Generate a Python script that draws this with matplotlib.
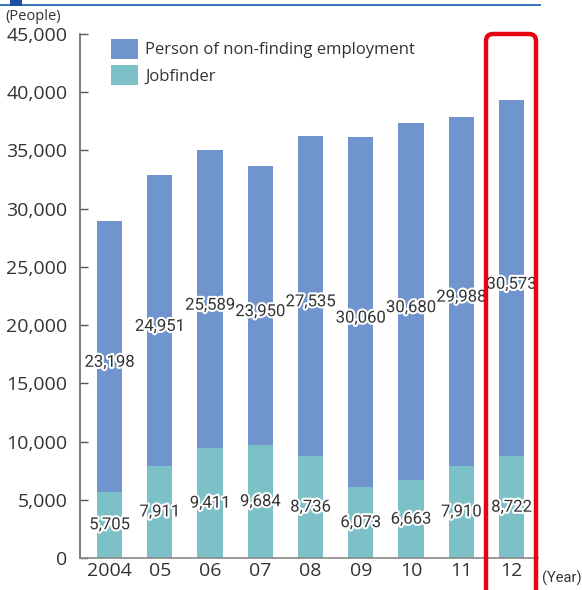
import matplotlib
matplotlib.use("Agg")
import matplotlib.pyplot as plt
import matplotlib.patheffects as pe
from matplotlib.patches import FancyBboxPatch, Rectangle
import numpy as np

years = ["2004", "05", "06", "07", "08", "09", "10", "11", "12"]
non_finding = [23198, 24951, 25589, 23950, 27535, 30060, 30680, 29988, 30573]
jobfinder = [5705, 7911, 9411, 9684, 8736, 6073, 6663, 7910, 8722]
yticks = [0, 5000, 10000, 15000, 20000, 25000, 30000, 35000, 40000, 45000]

plt.rcParams['font.family'] = ['Open Sans', 'DejaVu Sans']

W, H = 582, 590
fig = plt.figure(figsize=(W / 100, H / 100), dpi=100)
ax = fig.add_axes([80 / W, (H - 558) / H, 458 / W, 524 / H])

c_blue = "#7094cd"
c_teal = "#7dc1c8"
x = np.arange(len(years))
ax.bar(x, jobfinder, width=0.5, color=c_teal, label="Jobfinder", zorder=2)
ax.bar(x, non_finding, width=0.5, bottom=jobfinder, color=c_blue,
       label="Person of non-finding employment", zorder=2)

stroke = [pe.withStroke(linewidth=3, foreground="white")]
lab_font = ['Roboto', 'DejaVu Sans']
for i in range(len(years)):
    ax.text(x[i], jobfinder[i] / 2, f"{jobfinder[i]:,}", ha="center", va="center",
            fontsize=12, color="#333333", family=lab_font, path_effects=stroke, zorder=4)
    ax.text(x[i], jobfinder[i] + non_finding[i] / 2 - 500, f"{non_finding[i]:,}",
            ha="center", va="center", fontsize=12, color="#333333", family=lab_font,
            path_effects=stroke, zorder=4)

ax.set_xlim(-0.587, 8.527)
ax.set_ylim(0, 45000)
ax.set_yticks(yticks)
ax.set_yticklabels([f"{v:,}" for v in yticks], fontsize=14, color="#333333")
ax.set_xticks(x)
ax.set_xticklabels(years, fontsize=14, color="#333333")
ax.tick_params(axis="y", direction="in", length=6, width=1, color="#555555", pad=9)
ax.tick_params(axis="x", length=0, pad=3)
for s in ["top", "right"]:
    ax.spines[s].set_visible(False)
ax.spines["left"].set_color("#666666")
ax.spines["bottom"].set_color("#888888")
ax.spines["left"].set_linewidth(1.2)
ax.spines["bottom"].set_linewidth(1.2)

handles, labels = ax.get_legend_handles_labels()
fig.legend(handles[::-1], labels[::-1], loc="upper left",
           bbox_to_anchor=(111 / W, 1 - 39 / H), bbox_transform=fig.transFigure,
           frameon=False, fontsize=12, handlelength=1.6, handleheight=1.45,
           labelspacing=0.4, handletextpad=0.45, labelcolor="#333333",
           borderpad=0, borderaxespad=0)

fig.text(5 / W, 1 - 17 / H, "(People)", fontsize=10.5, color="#333333", va="center", ha="left")
fig.text(542 / W, 1 - 578 / H, "(Year)", fontsize=10.5, color="#333333", va="center", ha="left",
         family=['Roboto', 'DejaVu Sans'])

# header line and square
fig.add_artist(Rectangle((0, 1 - 6 / H), 541 / W, 2 / H, transform=fig.transFigure,
                         color="#3a78c0", lw=0))
fig.add_artist(Rectangle((10 / W, 1 - 6 / H), 12 / W, 6 / H, transform=fig.transFigure,
                         color="#1f4f9f", lw=0))

# red highlight box
fig.add_artist(FancyBboxPatch((486 / W, -20 / H), 50 / W, (H - 34 + 20) / H,
                              boxstyle="round,pad=0,rounding_size=0.012",
                              transform=fig.transFigure, fill=False,
                              edgecolor="#e60012", lw=3.2, zorder=1))

fig.savefig("out.png", dpi=100)
